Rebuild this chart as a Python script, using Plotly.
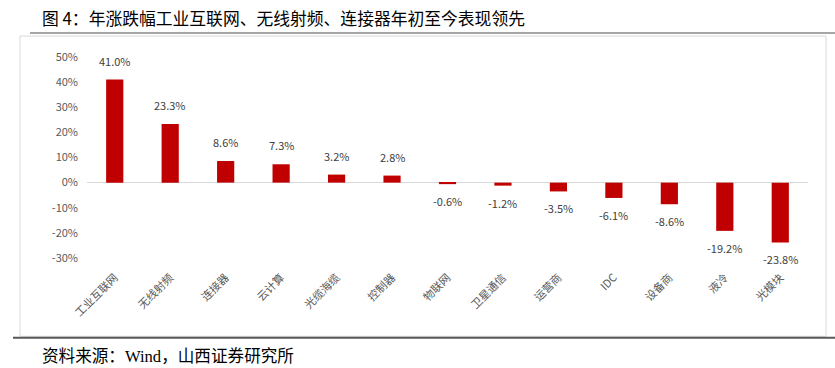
import plotly.graph_objects as go

categories = ["工业互联网", "无线射频", "连接器", "云计算", "光缆海缆", "控制器", "物联网",
              "卫星通信", "运营商", "IDC", "设备商", "液冷", "光模块"]
values = [41.0, 23.3, 8.6, 7.3, 3.2, 2.8, -0.6, -1.2, -3.5, -6.1, -8.6, -19.2, -23.8]
y_ticks = [50, 40, 30, 20, 10, 0, -10, -20, -30]
y_tick_labels = [f"{v}%" for v in y_ticks]
title_text = "图 4：年涨跌幅工业互联网、无线射频、连接器年初至今表现领先"
source_text = "资料来源：Wind，山西证券研究所"

W, H = 835, 368
L, R, T, B = 87, 808, 57, 258.5

def px(x):
    return (x - L) / (R - L)

def py(y):
    return (B - y) / (B - T)

FONT = "Noto Sans CJK SC, Noto Sans, sans-serif"
SRC_FONT = "Liberation Serif, Noto Sans CJK SC, serif"

fig = go.Figure(go.Bar(
    x=categories, y=values,
    marker=dict(color="#C00000", line=dict(width=0)),
    width=0.31,
    hoverinfo="x+y",
))

label_annotations = [
    dict(x=c, y=v, xref="x", yref="y", text=f"{v:.1f}%", showarrow=False,
         yanchor="bottom" if v >= 0 else "top", yshift=9 if v >= 0 else -7,
         font=dict(size=11, color="#404040", family=FONT))
    for c, v in zip(categories, values)
]

fig.update_layout(
    width=W, height=H,
    margin=dict(l=L, r=W - R, t=T, b=H - B),
    paper_bgcolor="white", plot_bgcolor="white",
    showlegend=False,
    font=dict(family=FONT),
    xaxis=dict(showgrid=False, showline=False, zeroline=False, ticks="",
               tickangle=-45, ticklabelstandoff=10,
               tickfont=dict(size=11, color="#595959", family=FONT)),
    yaxis=dict(range=[-30, 50], tickvals=y_ticks, ticktext=y_tick_labels,
               showgrid=False, showline=False, zeroline=True, zerolinecolor="#D9D9D9",
               zerolinewidth=1, ticks="", ticklabelstandoff=8,
               tickfont=dict(size=11, color="#595959", family=FONT)),
    shapes=[
        dict(type="rect", xref="paper", yref="paper",
             x0=px(20), x1=px(826), y0=py(337), y1=py(36),
             line=dict(color="#D9D9D9", width=1), layer="below"),
        dict(type="line", xref="paper", yref="paper",
             x0=px(30), x1=px(835), y0=py(33), y1=py(33),
             line=dict(color="#A6A6A6", width=2)),
        dict(type="line", xref="paper", yref="paper",
             x0=px(13), x1=px(835), y0=py(338.5), y1=py(338.5),
             line=dict(color="#595959", width=2)),
    ],
    annotations=label_annotations + [
        dict(text=title_text, xref="paper", yref="paper", x=px(40), y=py(18),
             xanchor="left", yanchor="middle", showarrow=False,
             font=dict(size=16.8, color="black", family=FONT)),
        dict(text=source_text, xref="paper", yref="paper", x=px(40), y=py(357),
             xanchor="left", yanchor="middle", showarrow=False,
             font=dict(size=16.6, color="black", family=SRC_FONT)),
    ],
)

fig.write_html("out.html", config={"displayModeBar": False},
               post_script="document.body.style.margin='0';document.body.style.overflow='hidden';")
